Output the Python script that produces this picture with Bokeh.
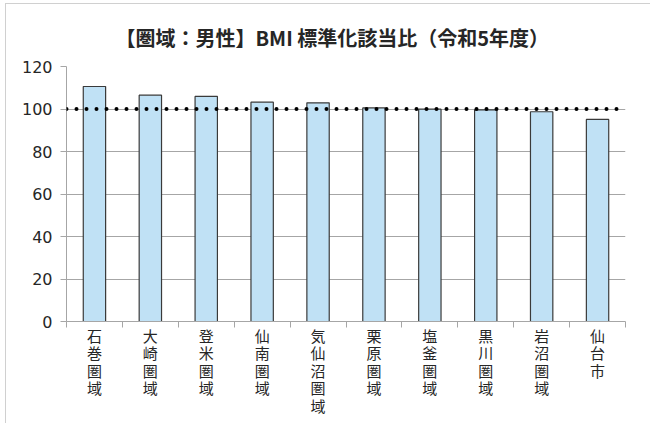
from bokeh.plotting import figure
from bokeh.models import (Range1d, LinearAxis, FixedTicker, Span, ColumnDataSource)
from bokeh.embed import file_html
from bokeh.resources import INLINE

categories = ["石巻圏域", "大崎圏域", "登米圏域", "仙南圏域", "気仙沼圏域",
              "栗原圏域", "塩釜圏域", "黒川圏域", "岩沼圏域", "仙台市"]
values = [110.6, 106.5, 105.9, 103.2, 102.9, 100.5, 99.9, 99.6, 98.7, 95.1]
reference_level = 100
y_ticks = [0, 20, 40, 60, 80, 100, 120]
title_text = "【圏域：男性】BMI 標準化該当比（令和5年度）"

W, H = 645, 420
ML, MR, MT, MB = 60, 26, 62, 103
GRID = "#a6a6a6"
TXT = "#262626"

n = len(categories)
centers = [i + 0.5 for i in range(n)]
bounds = list(range(n + 1))
src = ColumnDataSource(data=dict(x=centers, val=values, cat=categories))

p = figure(width=W, height=H,
           x_range=Range1d(0, n), y_range=Range1d(y_ticks[0], y_ticks[-1]),
           output_backend="svg", toolbar_location=None,
           x_axis_location=None,
           min_border_left=ML, min_border_right=MR,
           min_border_top=MT, min_border_bottom=MB)
p.outline_line_color = None
p.background_fill_color = "white"
p.border_fill_color = "white"
p.styles = {"margin-left": "5px", "margin-top": "3px",
            "border-left": "1px solid #d0d0d0", "border-top": "1px solid #d0d0d0"}

# title
p.title.text = title_text
p.title.align = "left"
p.title.offset = 49
p.title.standoff = 30
p.title.text_font = "Noto Sans CJK JP"
p.title.text_font_style = "bold"
p.title.text_font_size = "20px"
p.title.text_color = TXT

p.vbar(x="x", top="val", width=0.4, source=src,
       fill_color="#C0E1F5", line_color="#3a3a3a", line_width=1.2)

# y axis
p.yaxis.ticker = FixedTicker(ticks=y_ticks)
p.yaxis.axis_line_color = GRID
p.yaxis.major_tick_line_color = GRID
p.yaxis.major_tick_in = 0
p.yaxis.major_tick_out = 6
p.yaxis.minor_tick_line_color = None
p.yaxis.major_label_text_font = "DejaVu Sans"
p.yaxis.major_label_text_font_size = "16px"
p.yaxis.major_label_text_color = TXT
p.yaxis.major_label_standoff = 8
p.ygrid.ticker = FixedTicker(ticks=y_ticks)
p.ygrid.grid_line_color = GRID
p.xgrid.grid_line_color = None

# x axis: labels at category centres, tick marks at category boundaries (minor ticks)
x_axis = LinearAxis(ticker=FixedTicker(ticks=centers, minor_ticks=bounds),
                    major_tick_line_color=None, major_tick_in=0, major_tick_out=0,
                    minor_tick_line_color=GRID, minor_tick_in=0, minor_tick_out=6,
                    axis_line_color=GRID,
                    major_label_text_font="Noto Sans CJK JP",
                    major_label_text_font_size="15px",
                    major_label_text_color=TXT,
                    major_label_text_line_height=0.84,
                    major_label_standoff=-3,
                    major_label_orientation="horizontal",
                    major_label_overrides={c: "\n".join(t) for c, t in zip(centers, categories)})
p.add_layout(x_axis, "below")

# reference dotted line
p.add_layout(Span(location=reference_level, dimension="width", line_color="black",
                  line_width=4, line_dash="0 10", line_cap="round"))

open("out.html", "w").write(file_html(p, INLINE))
